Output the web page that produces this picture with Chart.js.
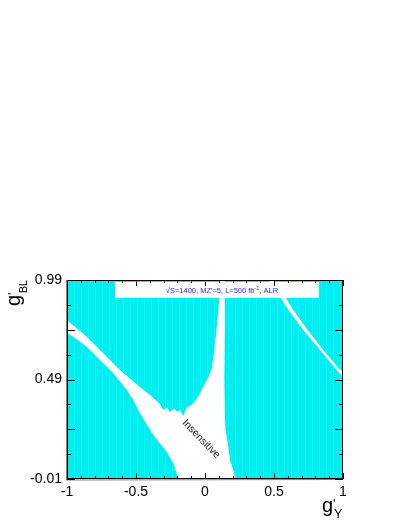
<!DOCTYPE html>
<html>
<head>
<meta charset="utf-8">
<script src="https://cdn.jsdelivr.net/npm/chart.js@4/dist/chart.umd.min.js"></script>
<style>
  body { margin: 0; background: #fff; }
  canvas { display: block; }
</style>
</head>
<body>
<canvas id="c" width="407" height="527"></canvas>
<script>
// axis ticks
const xTickLabels = [-1, -0.5, 0, 0.5, 1];
const yTickLabels = [-0.01, 0.49, 0.99];
const yMajorTicks = [-0.01, 0.24, 0.49, 0.74, 0.99];

// boundaries of the insensitive (white) bands
const bandUpperEdge = [[-1.000, 0.789], [-0.978, 0.775], [-0.942, 0.755], [-0.857, 0.705], [-0.737, 0.622],
    [-0.616, 0.538], [-0.493, 0.465], [-0.399, 0.412], [-0.326, 0.367], [-0.302, 0.337], [-0.275, 0.349],
    [-0.254, 0.327], [-0.225, 0.344], [-0.196, 0.327], [-0.181, 0.337], [-0.157, 0.307], [-0.138, 0.342],
    [-0.121, 0.353], [-0.085, 0.370], [-0.049, 0.404], [-0.024, 0.437], [0.012, 0.487]];
const stemLeftEdge = [[0.024, 0.497], [0.049, 0.548], [0.060, 0.598], [0.072, 0.665], [0.085, 0.749],
    [0.096, 0.833], [0.104, 0.900], [0.105, 0.990]];
const bandLowerEdge = [[-1.000, 0.722], [-0.954, 0.705], [-0.857, 0.655], [-0.761, 0.588], [-0.664, 0.521],
    [-0.567, 0.437], [-0.520, 0.387], [-0.471, 0.320], [-0.422, 0.264], [-0.375, 0.211], [-0.326, 0.169],
    [-0.278, 0.127], [-0.230, 0.069], [-0.205, 0.019], [-0.192, -0.010]];
const stemRightEdge = [[0.145, 0.990], [0.145, 0.749], [0.140, 0.498], [0.145, 0.297], [0.149, 0.236],
    [0.157, 0.203], [0.169, 0.152], [0.181, 0.085], [0.205, 0.035], [0.217, 0.000], [0.221, -0.010]];
const stripeUpperEdge = [[0.495, 0.990], [0.587, 0.900], [0.640, 0.839], [0.744, 0.739], [0.857, 0.638],
    [0.967, 0.548], [1.000, 0.528]];
const stripeLowerEdge = [[0.457, 0.990], [0.549, 0.900], [0.604, 0.839], [0.712, 0.739], [0.833, 0.638],
    [0.954, 0.538], [1.000, 0.503]];

const FONT = "'Liberation Sans', Arial, Helvetica, sans-serif";

// cyan fill with the faint vertical bin seams of the original
function cyanPattern() {
    const c = document.createElement('canvas');
    c.width = 7; c.height = 4;
    const g = c.getContext('2d');
    g.fillStyle = 'rgb(0,238,240)';
    g.fillRect(0, 0, 7, 4);
    g.fillStyle = 'rgb(20,241,243)';
    g.fillRect(4, 0, 1, 4);
    return g.createPattern(c, 'repeat');
}
const CYAN = cyanPattern();

function pts(list) { return list.map(p => ({ x: p[0], y: p[1] })); }

// sensitive (cyan) regions built from the edges
const regions = [
    [[-1, 0.99], ...bandUpperEdge, ...stemLeftEdge],
    [...bandLowerEdge, [-1, -0.01]],
    [...stemRightEdge, [1, -0.01], ...stripeLowerEdge.slice().reverse()],
    [...stripeUpperEdge, [1, 0.99]]
];

// frame, inner ticks, legend box, labels
const decorPlugin = {
    id: 'decor',
    afterDraw(chart) {
        const ctx = chart.ctx;
        const xs = chart.scales.x, ys = chart.scales.y;
        const a = chart.chartArea;

        // legend box
        const bx0 = xs.getPixelForValue(-0.652), bx1 = xs.getPixelForValue(0.826);
        const by0 = ys.getPixelForValue(0.98), by1 = ys.getPixelForValue(0.90);
        ctx.save();
        ctx.fillStyle = '#fff';
        ctx.fillRect(bx0, by0, bx1 - bx0, by1 - by0);

        const p1 = "\u221AS=1400, MZ'=5, L=500 fb", p2 = '-1', p3 = ', ALR';
        ctx.fillStyle = '#2b2bf5';
        ctx.textBaseline = 'alphabetic';
        ctx.font = '7.5px ' + FONT;
        const w1 = ctx.measureText(p1).width, w3 = ctx.measureText(p3).width;
        ctx.font = '5.5px ' + FONT;
        const w2 = ctx.measureText(p2).width;
        let tx = 222 - (w1 + w2 + w3) / 2;
        const ty = 293;
        ctx.font = '7.5px ' + FONT;
        ctx.fillText(p1, tx, ty); tx += w1;
        ctx.font = '5.5px ' + FONT;
        ctx.fillText(p2, tx, ty - 3); tx += w2;
        ctx.font = '7.5px ' + FONT;
        ctx.fillText(p3, tx, ty);

        // "Insensitive" label
        ctx.save();
        ctx.translate(xs.getPixelForValue(-0.029), ys.getPixelForValue(0.191));
        ctx.rotate(0.80);
        ctx.fillStyle = '#222';
        ctx.font = '10.5px ' + FONT;
        ctx.textAlign = 'center';
        ctx.textBaseline = 'middle';
        ctx.fillText('Insensitive', 0, 0);
        ctx.restore();

        // frame
        ctx.strokeStyle = '#000';
        ctx.lineWidth = 1;
        ctx.strokeRect(Math.round(a.left) + 0.5, Math.round(a.top) + 0.5,
            Math.round(a.right - a.left) - 1, Math.round(a.bottom - a.top) - 1);
        // the left and bottom axes are a little heavier
        ctx.beginPath();
        ctx.moveTo(Math.round(a.left) - 0.5, a.top);
        ctx.lineTo(Math.round(a.left) - 0.5, a.bottom + 1);
        ctx.lineTo(a.right, a.bottom + 0.5);
        ctx.strokeStyle = 'rgba(0,0,0,0.5)';
        ctx.stroke();
        ctx.strokeStyle = '#000';

        // ticks inside the frame
        ctx.beginPath();
        for (let i = 0; i <= 20; i++) {
            const v = -1 + i * 0.1;
            const major = xTickLabels.some(t => Math.abs(t - v) < 1e-6);
            const len = major ? 6 : 3;
            const px = Math.round(xs.getPixelForValue(v)) + 0.5;
            ctx.moveTo(px, a.bottom); ctx.lineTo(px, a.bottom - len);
            ctx.moveTo(px, a.top); ctx.lineTo(px, a.top + len);
        }
        for (let i = 0; i <= 8; i++) {
            const v = -0.01 + i * 0.125;
            const major = yMajorTicks.some(t => Math.abs(t - v) < 1e-6);
            const len = major ? 8 : 4;
            const py = Math.round(ys.getPixelForValue(v)) + 0.5;
            ctx.moveTo(a.left, py); ctx.lineTo(a.left + len, py);
            ctx.moveTo(a.right, py); ctx.lineTo(a.right - len, py);
        }
        ctx.stroke();

        // axis titles
        ctx.fillStyle = '#000';
        ctx.textBaseline = 'alphabetic';
        ctx.textAlign = 'left';
        ctx.font = '20px ' + FONT;
        ctx.fillText('g', 322, 512);
        ctx.font = '13px ' + FONT;
        ctx.fillText("'", 333, 508);
        ctx.font = '12.5px ' + FONT;
        ctx.fillText('Y', 334, 518);

        ctx.save();
        ctx.translate(20, 306);
        ctx.rotate(-Math.PI / 2);
        ctx.font = '20px ' + FONT;
        ctx.fillText('g', 0, 0);
        ctx.font = '13px ' + FONT;
        ctx.fillText("'", 11, -3);
        ctx.font = '10.5px ' + FONT;
        ctx.fillText('BL', 13, 6.5);
        ctx.restore();

        ctx.restore();
    }
};

new Chart(document.getElementById('c'), {
    type: 'scatter',
    data: {
        datasets: regions.map(r => ({
            data: pts(r),
            showLine: true,
            fill: 'shape',
            backgroundColor: CYAN,
            borderColor: 'rgba(0,0,0,0)',
            borderWidth: 0,
            pointRadius: 0,
            tension: 0
        }))
    },
    options: {
        responsive: false,
        animation: false,
        devicePixelRatio: 1,
        layout: { padding: { top: 280, right: 64, left: 0, bottom: 0 } },
        plugins: { legend: { display: false }, tooltip: { enabled: false } },
        scales: {
            x: {
                type: 'linear', min: -1, max: 1, position: 'bottom',
                grid: { display: false, drawTicks: false },
                border: { display: false },
                afterBuildTicks: s => { s.ticks = xTickLabels.map(v => ({ value: v })); },
                afterFit: s => { s.height = 48; },
                ticks: {
                    autoSkip: false, maxRotation: 0, padding: 5, color: '#000',
                    font: { family: FONT, size: 14 },
                    callback: v => String(v)
                }
            },
            y: {
                type: 'linear', min: -0.01, max: 0.99,
                grid: { display: false, drawTicks: false },
                border: { display: false },
                afterBuildTicks: s => { s.ticks = yTickLabels.map(v => ({ value: v })); },
                afterFit: s => { s.width = 67; },
                ticks: {
                    autoSkip: false, padding: 5, color: '#000',
                    font: { family: FONT, size: 14 },
                    callback: v => v.toFixed(2)
                }
            }
        }
    },
    plugins: [decorPlugin]
});
</script>
</body>
</html>
